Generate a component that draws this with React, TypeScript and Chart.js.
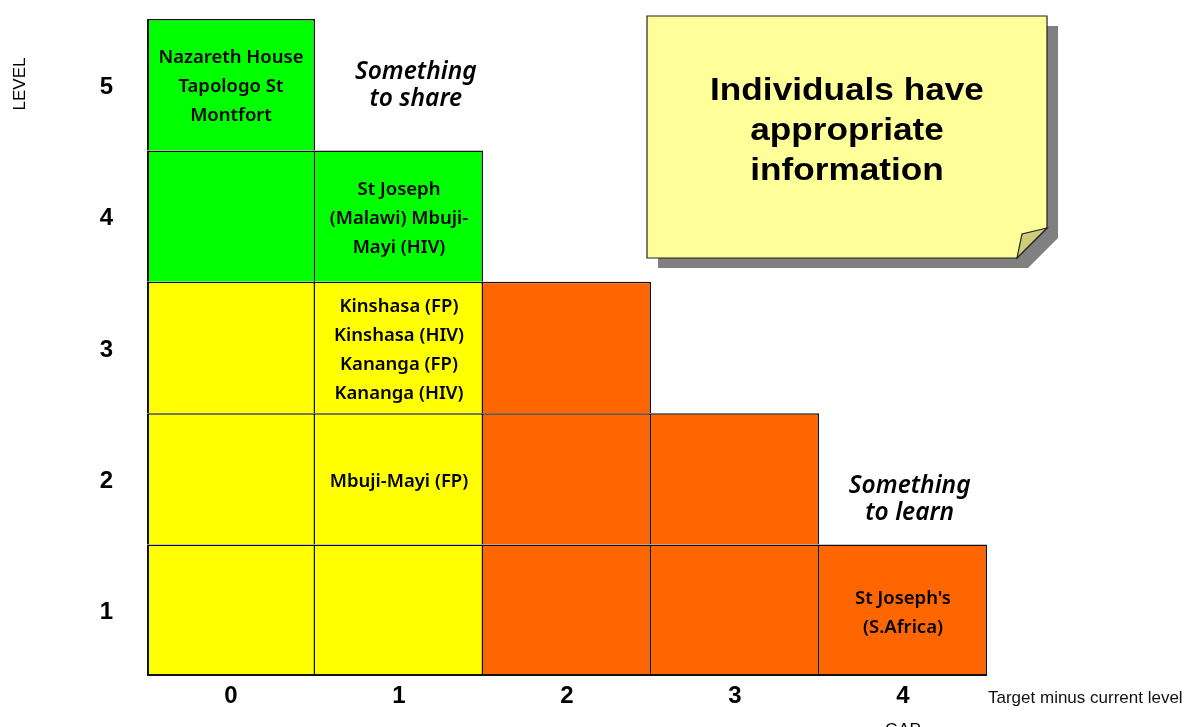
import React, { useEffect, useRef } from "react";
import { Chart, registerables } from "chart.js";

Chart.register(...registerables);

// ---- data ----
const GAPS = ["0", "1", "2", "3", "4"];
const LEVELS = [1, 2, 3, 4, 5];

// zone of each cell: one row per level (1..5), one entry per gap (0..4)
const ZONES_LEVEL_1 = ["yellow", "yellow", "orange", "orange", "orange"];
const ZONES_LEVEL_2 = ["yellow", "yellow", "orange", "orange", null];
const ZONES_LEVEL_3 = ["yellow", "yellow", "orange", null, null];
const ZONES_LEVEL_4 = ["green", "green", null, null, null];
const ZONES_LEVEL_5 = ["green", null, null, null, null];
const ZONE_ROWS: (string | null)[][] = [ZONES_LEVEL_1, ZONES_LEVEL_2, ZONES_LEVEL_3, ZONES_LEVEL_4, ZONES_LEVEL_5];

const ZONE_COLORS: Record<string, string> = {
  green: "#00FF00",
  yellow: "#FFFF00",
  orange: "#FF6600",
};

const CELL_TEXT = [
  { gap: 0, level: 5, lines: ["Nazareth House", "Tapologo St", "Montfort"] },
  { gap: 1, level: 4, lines: ["St Joseph", "(Malawi) Mbuji-", "Mayi (HIV)"] },
  { gap: 1, level: 3, lines: ["Kinshasa (FP)", "Kinshasa (HIV)", "Kananga (FP)", "Kananga (HIV)"] },
  { gap: 1, level: 2, lines: ["Mbuji-Mayi (FP)"] },
  { gap: 4, level: 1, lines: ["St Joseph's", "(S.Africa)"] },
];

const ZONE_NOTES = [
  { gap: 1.1, level: 5.0, lines: ["Something", "to share"] },
  { gap: 4.04, level: 1.85, lines: ["Something", "to learn"] },
];

const NOTE_TITLE = ["Individuals have", "appropriate", "information"];
const Y_TITLE = "LEVEL";
const X_TITLE = "GAP";
const X_SUBTITLE = "Target minus current level";

const W = 1186;
const H = 727;

const CELL_FONT = "600 18.5px 'Noto Sans', 'DejaVu Sans', sans-serif";
const NOTE_FONT = "italic 600 24.5px 'Noto Sans', 'DejaVu Sans', sans-serif";
const TICK_FONT_FAMILY = "'Liberation Sans', Arial, sans-serif";

const annotationPlugin = {
  id: "annotations",
  afterDatasetsDraw(chart: any) {
    const { ctx, scales } = chart;
    const x = scales.x;
    const y = scales.y;
    ctx.save();
    ctx.fillStyle = "#000";
    ctx.textAlign = "center";
    ctx.textBaseline = "middle";

    ctx.font = CELL_FONT;
    for (const c of CELL_TEXT) {
      const cx = x.getPixelForValue(c.gap);
      const cy = y.getPixelForValue(c.level) + 2.5;
      const n = c.lines.length;
      c.lines.forEach((t, k) => ctx.fillText(t, cx, cy + (k - (n - 1) / 2) * 29));
    }

    ctx.font = NOTE_FONT;
    for (const c of ZONE_NOTES) {
      const cx = x.getPixelForValue(c.gap);
      const cy = y.getPixelForValue(c.level) + 1;
      const n = c.lines.length;
      c.lines.forEach((t, k) => ctx.fillText(t, cx, cy + (k - (n - 1) / 2) * 27));
    }
    ctx.restore();
  },
  afterDraw(chart: any) {
    const { ctx } = chart;
    ctx.save();

    // axis titles
    ctx.fillStyle = "#000";
    ctx.font = `17px ${TICK_FONT_FAMILY}`;
    ctx.save();
    ctx.translate(20, 84);
    ctx.rotate(-Math.PI / 2);
    ctx.textAlign = "center";
    ctx.textBaseline = "middle";
    ctx.fillText(Y_TITLE, 0, 0);
    ctx.restore();

    ctx.textAlign = "center";
    ctx.textBaseline = "top";
    ctx.fillText(X_TITLE, 903, 722);

    ctx.font = `17px ${TICK_FONT_FAMILY}`;
    ctx.textAlign = "left";
    ctx.textBaseline = "middle";
    ctx.fillStyle = "#111";
    ctx.fillText(X_SUBTITLE, 988, 698);

    // sticky note
    const L = 647, T = 16, R = 1047, B = 258, fold = 30, sh = 10;
    const notePath = (dx: number, dy: number) => {
      ctx.beginPath();
      ctx.moveTo(L + dx, T + dy);
      ctx.lineTo(R + dx, T + dy);
      ctx.lineTo(R + dx, B - fold + dy);
      ctx.lineTo(R - fold + dx, B + dy);
      ctx.lineTo(L + dx, B + dy);
      ctx.closePath();
    };
    notePath(sh + 1, sh);
    ctx.fillStyle = "#808080";
    ctx.fill();
    notePath(0, 0);
    ctx.fillStyle = "#FFFF99";
    ctx.fill();
    ctx.strokeStyle = "#222";
    ctx.lineWidth = 1.2;
    ctx.stroke();
    // folded corner
    ctx.beginPath();
    ctx.moveTo(R, B - fold);
    ctx.lineTo(R - fold, B);
    ctx.lineTo(R - fold + 5, B - fold + 6);
    ctx.closePath();
    ctx.fillStyle = "#CCCC7A";
    ctx.fill();
    ctx.stroke();

    ctx.fillStyle = "#000";
    ctx.font = `bold 32px ${TICK_FONT_FAMILY}`;
    ctx.textAlign = "center";
    ctx.textBaseline = "middle";
    NOTE_TITLE.forEach((t, k) => {
      ctx.save();
      ctx.translate((L + R) / 2, 91.5 + k * 40);
      ctx.scale(1.1, 1);
      ctx.fillText(t, 0, 0);
      ctx.restore();
    });

    ctx.restore();
  },
};

export default function App() {
  const ref = useRef<HTMLCanvasElement>(null);

  useEffect(() => {
    const canvas = ref.current;
    if (!canvas) return;

    const datasets = LEVELS.map((level, i) => ({
      label: `Level ${level}`,
      data: GAPS.map((_, g) => (ZONE_ROWS[i][g] ? [level - 0.5, level + 0.5] : null)),
      backgroundColor: GAPS.map((_, g) => {
        const z = ZONE_ROWS[i][g];
        return z ? ZONE_COLORS[z] : "rgba(0,0,0,0)";
      }),
      borderColor: "#111",
      borderWidth: (c: any) => ({
        top: 1.5,
        right: 1.5,
        left: c.dataIndex === 0 ? 2 : 0,
        bottom: level === 1 ? 2 : 0,
      }),
      borderSkipped: false,
      grouped: false,
      barPercentage: 1,
      categoryPercentage: 1,
      inflateAmount: 0,
    }));

    const chart = new Chart(canvas, {
      type: "bar",
      data: { labels: GAPS, datasets: datasets as any },
      options: {
        responsive: false,
        maintainAspectRatio: false,
        devicePixelRatio: 1,
        animation: false,
        layout: { padding: { top: 19, right: W - 987, left: 0, bottom: 0 } },
        plugins: {
          legend: { display: false },
          tooltip: { enabled: false },
        },
        scales: {
          x: {
            type: "category",
            offset: true,
            grid: { display: false, drawTicks: false },
            border: { display: false },
            ticks: {
              color: "#000",
              padding: 6,
              font: { family: TICK_FONT_FAMILY, size: 24, weight: "bold" },
            },
            afterFit: (s: any) => {
              s.height = H - 676;
              s.paddingLeft = 0;
              s.paddingRight = 0;
            },
          },
          y: {
            type: "linear",
            min: 0.5,
            max: 5.5,
            grid: { display: false, drawTicks: false },
            border: { display: false },
            afterBuildTicks: (s: any) => {
              s.ticks = LEVELS.map((v) => ({ value: v }));
            },
            ticks: {
              color: "#000",
              padding: 34,
              labelOffset: 2.5,
              font: { family: TICK_FONT_FAMILY, size: 24, weight: "bold" },
            },
            afterFit: (s: any) => {
              s.width = 147;
              s.paddingTop = 0;
              s.paddingBottom = 0;
            },
          },
        },
      },
      plugins: [annotationPlugin],
    });

    return () => chart.destroy();
  }, []);

  return (
    <div style={{ position: "fixed", left: 0, top: 0, width: W, height: H, background: "#fff" }}>
      <canvas ref={ref} width={W} height={H} style={{ width: W, height: H, display: "block" }} />
    </div>
  );
}
